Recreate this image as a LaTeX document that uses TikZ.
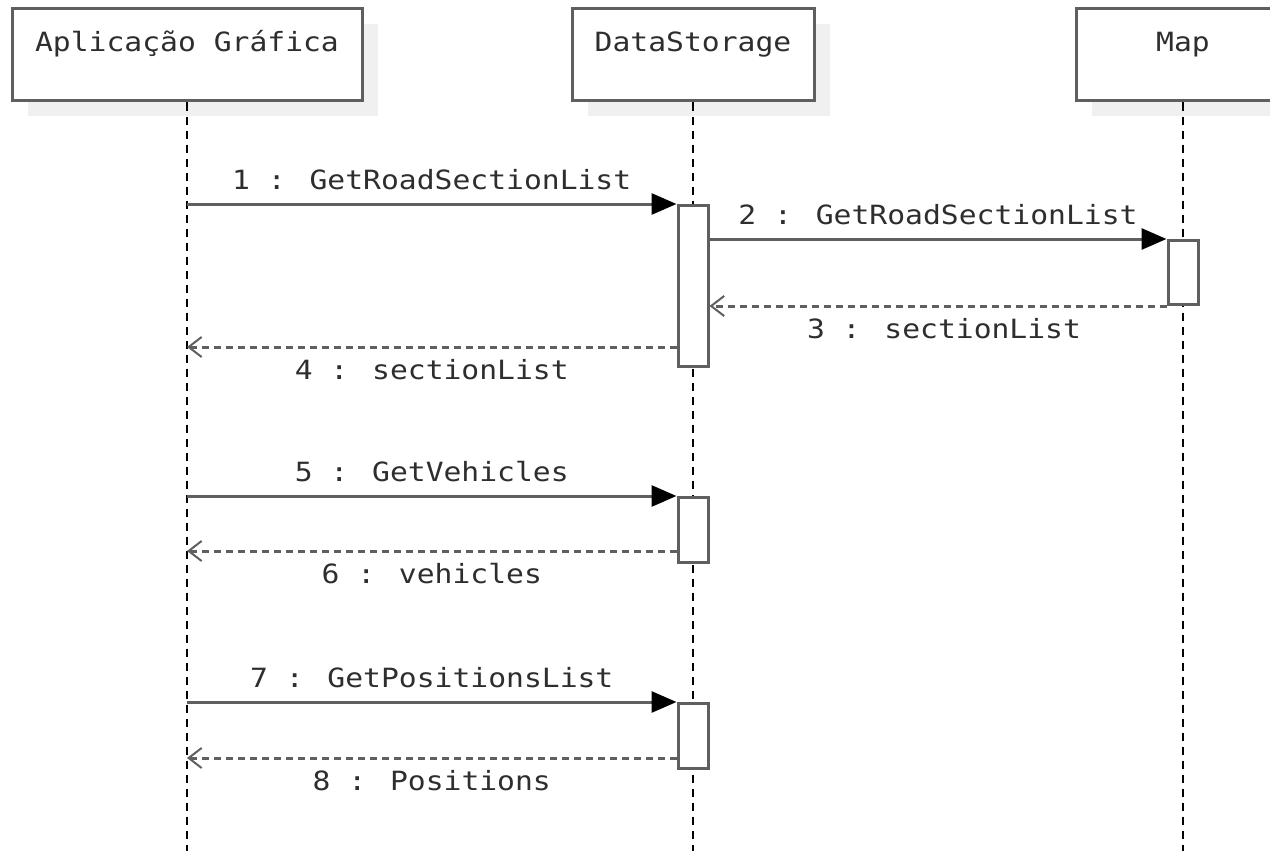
\documentclass[tikz,border=0pt]{standalone}
\usepackage{fontspec}
\newfontfamily\umlfont[FakeStretch=1.12]{DejaVu Sans Mono}
\usetikzlibrary{arrows.meta,shadows,positioning}
\definecolor{linecol}{HTML}{5F5F5F}
\definecolor{textcol}{HTML}{2E2E2E}
\definecolor{shadecol}{HTML}{F0F0F0}
\tikzset{
  umltext/.style={text=textcol, font=\umlfont\fontsize{26.5}{30}\selectfont},
  head/.style={umltext, draw=linecol, line width=3pt, fill=white, minimum height=92pt,
    inner sep=0pt, text height=20pt, text depth=26pt,
    drop shadow={shadow xshift=16pt, shadow yshift=-15pt, fill=shadecol, opacity=1}},
  lifeline/.style={draw=black, line width=2.5pt, dash pattern=on 8pt off 6pt},
  act/.style={draw=linecol, line width=3pt, fill=white, minimum width=30pt, inner sep=0pt, anchor=north},
  call/.style={draw=linecol, line width=3pt, -{Triangle[length=25pt, width=21pt, fill=black, color=black]}},
  ret/.style={draw=linecol, line width=3pt, dash pattern=on 7pt off 5pt,
    -{Straight Barb[length=13pt, width=20pt, line width=2pt]}},
  msg/.style={umltext, inner sep=2pt, text height=19pt, text depth=5pt}
}
\begin{document}
\begin{tikzpicture}[x=1pt,y=-1pt]
\useasboundingbox[fill=white] (0,0) rectangle (1270,851);
\coordinate (bottom) at (0,851);
%%
  % Node: app
  \node[head, minimum width=350pt] (app) at (187,55) {Aplicação Gráfica};
  % Node: store
  \node[head, minimum width=242pt] (store) at (693,55) {DataStorage};
  % Node: map
  \node[head, minimum width=214pt] (map) at (1183,55) {Map};
%%
  \draw[lifeline] (app.south) -- (app.south |- bottom);
  \draw[lifeline] (store.south) -- (store.south |- bottom);
  \draw[lifeline] (map.south) -- (map.south |- bottom);
%%
  % Node: act1 (DataStorage, 1-4)
  \node[act, minimum height=161pt] (act1) at (store.south |- 0,204) {};
  % Node: act2 (Map, 2-3)
  \node[act, minimum height=64pt] (act2) at (map.south |- 0,239) {};
  % Node: act3 (DataStorage, 5-6)
  \node[act, minimum height=65pt] (act3) at (store.south |- 0,496) {};
  % Node: act4 (DataStorage, 7-8)
  \node[act, minimum height=65pt] (act4) at (store.south |- 0,702) {};
%%
  \coordinate (m1) at (app.south |- act1.north);
  \coordinate (r4) at (app.south |- 0,347);
  \coordinate (m5) at (app.south |- act3.north);
  \coordinate (r6) at (app.south |- 0,551);
  \coordinate (m7) at (app.south |- act4.north);
  \coordinate (r8) at (app.south |- 0,758);
%%
  % Edge: app -> store
  \draw[call] (m1) -- (act1.north west) node[msg, midway, above=6pt] {1 : GetRoadSectionList};
  % Edge: store -> map
  \draw[call] (act1.east |- act2.north) -- (act2.north west) node[msg, midway, above=6pt] {2 : GetRoadSectionList};
  % Edge: map -> store
  \draw[ret] (act2.south west) -- (act1.east |- act2.south) node[msg, midway, below=10pt, xshift=6pt] {3 : sectionList};
  % Edge: store -> app
  \draw[ret] (act1.west |- r4) -- (r4) node[msg, midway, below=10pt] {4 : sectionList};
  % Edge: app -> store
  \draw[call] (m5) -- (act3.north west) node[msg, midway, above=6pt] {5 : GetVehicles};
  % Edge: store -> app
  \draw[ret] (act3.west |- r6) -- (r6) node[msg, midway, below=10pt] {6 : vehicles};
  % Edge: app -> store
  \draw[call] (m7) -- (act4.north west) node[msg, midway, above=6pt] {7 : GetPositionsList};
  % Edge: store -> app
  \draw[ret] (act4.west |- r8) -- (r8) node[msg, midway, below=10pt] {8 : Positions};
%
\end{tikzpicture}
\end{document}
